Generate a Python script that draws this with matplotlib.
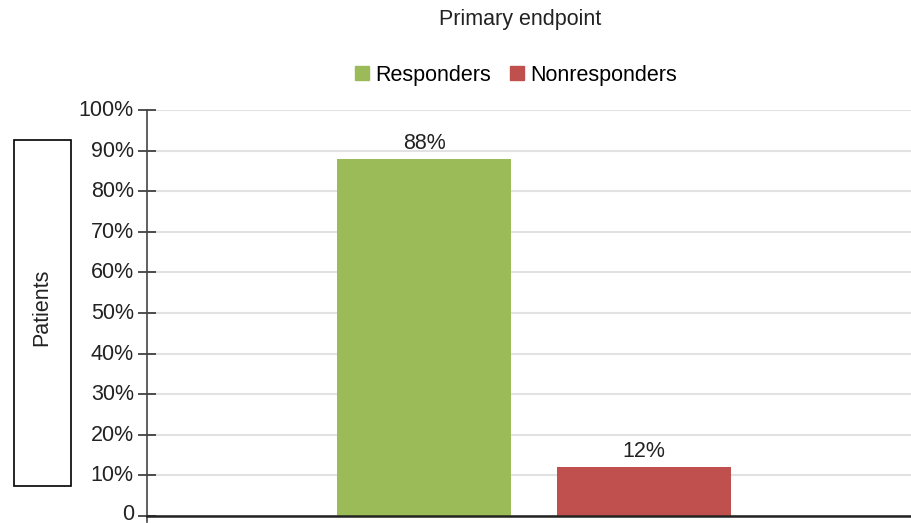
import matplotlib
matplotlib.use('Agg')
import matplotlib.pyplot as plt
import matplotlib.transforms as mtransforms
from matplotlib.patches import Rectangle, Patch

plt.rcParams['font.family'] = ['Liberation Sans', 'DejaVu Sans']

# data
series = ['Responders', 'Nonresponders']
values = [88, 12]
colours = ['#9BBB59', '#C0504D']
yticks = [0, 10, 20, 30, 40, 50, 60, 70, 80, 90, 100]
ytick_labels = ['0'] + [f'{v}%' for v in yticks[1:]]

FS = 15.5
W, H = 912, 523
fig = plt.figure(figsize=(W / 100, H / 100), dpi=100)
# axes box in pixel coordinates: left 147, right 912, top 110, bottom 516
ax = fig.add_axes([147 / W, (H - 516) / H, (912 - 147) / W, (516 - 110) / H])

for s in ['top', 'right']:
    ax.spines[s].set_visible(False)
ax.spines['left'].set_color('#444444')
ax.spines['left'].set_linewidth(1.2)
ax.spines['bottom'].set_color('#222222')
ax.spines['bottom'].set_linewidth(1.8)
ax.spines['bottom'].set_zorder(4)

xpos = [0, 1]
bars = ax.bar(xpos, values, width=0.79, color=colours, zorder=3)
for b, v in zip(bars, values):
    ax.text(b.get_x() + b.get_width() / 2, v + 1.2, f'{v}%',
            ha='center', va='bottom', fontsize=FS, color='#222222')

ax.set_yticks(yticks)
ax.set_yticklabels(ytick_labels, fontsize=FS, color='#222222')
ax.set_xticks([])
ax.grid(axis='y', color='#e2e2e2', lw=1.5, zorder=0)
ax.tick_params(axis='y', direction='inout', length=13, width=1.2,
               color='#333333', pad=3)
ax.set_xlim(-1.259, 2.218)
ax.set_ylim(0, 100)
ax.spines['left'].set_bounds(-1.5, 100)

# nudge tick labels up a little, as in the reference (the "0" a bit more)
for i, lab in enumerate(ax.get_yticklabels()):
    dy = 4 if i == 0 else 2
    shift = mtransforms.ScaledTranslation(0, dy / 100, fig.dpi_scale_trans)
    lab.set_transform(lab.get_transform() + shift)

# title and legend
fig.text(520 / W, 1 - 20 / H, 'Primary endpoint', ha='center', va='center',
         fontsize=FS, color='#222222')
handles = [Patch(color=c, label=s) for c, s in zip(colours, series)]
fig.legend(handles=handles, loc='center', bbox_to_anchor=(516 / W, 1 - 75 / H),
           ncol=2, frameon=False, fontsize=FS, handlelength=0.65, handleheight=0.65,
           handletextpad=0.3, columnspacing=0.85)

# boxed y label
fig.patches.append(Rectangle((14 / W, 1 - 486 / H), 57 / W, 346 / H,
                             transform=fig.transFigure, fill=False,
                             edgecolor='black', lw=1.2))
fig.text(42 / W, 1 - 307 / H, 'Patients', rotation=90, ha='center', va='center',
         fontsize=FS, color='#222222')

fig.savefig('out.png', dpi=100, facecolor='white')
